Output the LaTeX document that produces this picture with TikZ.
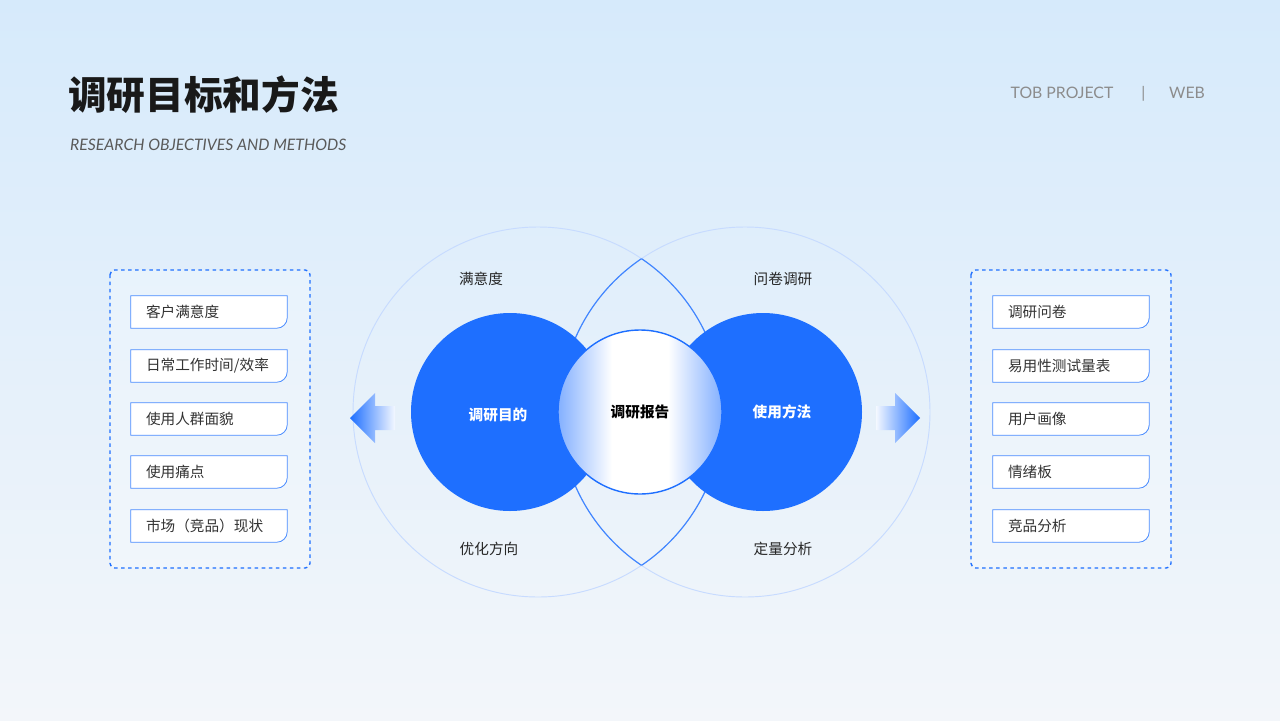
\documentclass[tikz,border=0pt]{standalone}
\usepackage{fontspec}
\setmainfont{Noto Sans CJK SC}
\newfontfamily\latinfont{Lato}
\usetikzlibrary{positioning}
\definecolor{mainblue}{HTML}{1E6FFF}
\definecolor{textgray}{HTML}{333333}
\definecolor{bgtop}{HTML}{D6EAFB}
\definecolor{bgbottom}{HTML}{F3F6FA}
\tikzset{
  item/.style={minimum width=156*0.03cm, minimum height=32*0.03cm, inner sep=0pt, font=\fontsize{12.5pt}{14pt}\selectfont, text=textgray},
  itemframe/.style={draw=mainblue!80, line width=0.7pt, fill=white},
  panel/.style={draw=mainblue, dashed, line width=1.2pt, rounded corners=4pt, fill=white, fill opacity=0.25},
  tag/.style={font=\fontsize{12.5pt}{14pt}\selectfont, text=black!85},
}
\newcommand{\itembox}[3]{% name, position, text
  \node[item] (#1) at #2 {};
  \draw[itemframe] (#1.south west) -- (#1.north west) -- (#1.north east)
    {[rounded corners=9pt] -- (#1.south east)} -- cycle;
  \node[item, anchor=west, minimum width=0pt, xshift=15*0.03cm] at (#1.west) {#3};
}
\begin{document}
\begin{tikzpicture}[x=0.03cm, y=-0.03cm]
    % background
    \shade[top color=bgtop, bottom color=bgbottom] (0,0) rectangle (1280,720);
    \useasboundingbox (0,0) rectangle (1280,720);

    % header
    \node[anchor=west, font=\fontsize{33pt}{35pt}\selectfont\bfseries, text=black!90] (title) at (64,95) {调研目标和方法};
    \node[anchor=west, font=\latinfont\itshape\fontsize{13.5pt}{15pt}\selectfont, text=black!65] (subtitle) at (66,145) {RESEARCH OBJECTIVES AND METHODS};
    \node[anchor=east, font=\latinfont\fontsize{13.5pt}{15pt}\selectfont, text=black!45] (project) at (1209,94) {TOB PROJECT \quad\ \ |\quad\ \ WEB};

    % large outline circles
    \draw[mainblue!25, line width=0.8pt] (538,412) circle (185);
    \draw[mainblue!25, line width=0.8pt] (745,412) circle (185);
    \begin{scope}
        \clip (538,412) circle (185);
        \draw[mainblue!85, line width=1pt] (745,412) circle (185);
    \end{scope}
    \begin{scope}
        \clip (745,412) circle (185);
        \draw[mainblue!85, line width=1pt] (538,412) circle (185);
    \end{scope}

    % filled circles
    \fill[mainblue] (510,412) circle (99);
    \fill[mainblue] (763,412) circle (99);
    \begin{scope}
        \clip (640,412) circle (82);
        \fill[white] (558,330) rectangle (722,494);
        \shade[left color=mainblue!55, right color=white] (558,330) rectangle (612,494);
        \shade[left color=white, right color=mainblue!55] (668,330) rectangle (722,494);
    \end{scope}
    \draw[mainblue, line width=1.2pt] (640,412) circle (82);

    \node[font=\fontsize{12.5pt}{14pt}\selectfont\bfseries, text=white] (goal) at (498,415) {调研目的};
    \node[font=\fontsize{12.5pt}{14pt}\selectfont\bfseries, text=black] (report) at (640,412) {调研报告};
    \node[font=\fontsize{12.5pt}{14pt}\selectfont\bfseries, text=white] (method) at (782,412) {使用方法};

    % labels
    \node[tag] (satisfaction) at (481,279) {满意度};
    \node[tag] (survey) at (783,279) {问卷调研};
    \node[tag] (direction) at (489,549) {优化方向};
    \node[tag] (analysis) at (783,549) {定量分析};

    % arrows
    \shade[left color=mainblue, right color=mainblue!5] (350,418) -- (375,393) -- (375,406) -- (395,406) -- (395,430) -- (375,430) -- (375,443) -- cycle;
    \shade[left color=mainblue!5, right color=mainblue] (920,418) -- (895,393) -- (895,406) -- (876,406) -- (876,430) -- (895,430) -- (895,443) -- cycle;

    % panels
    \draw[panel] (110,270) rectangle (310,568);
    \draw[panel] (971,270) rectangle (1171,568);

    % left items
    \itembox{l1}{(209,312)}{客户满意度}
    \itembox{l2}{(209,366)}{日常工作时间/效率}
    \itembox{l3}{(209,419)}{使用人群面貌}
    \itembox{l4}{(209,472)}{使用痛点}
    \itembox{l5}{(209,526)}{市场（竞品）现状}

    % right items
    \itembox{r1}{(1071,312)}{调研问卷}
    \itembox{r2}{(1071,366)}{易用性测试量表}
    \itembox{r3}{(1071,419)}{用户画像}
    \itembox{r4}{(1071,472)}{情绪板}
    \itembox{r5}{(1071,526)}{竞品分析}
\end{tikzpicture}
\end{document}
